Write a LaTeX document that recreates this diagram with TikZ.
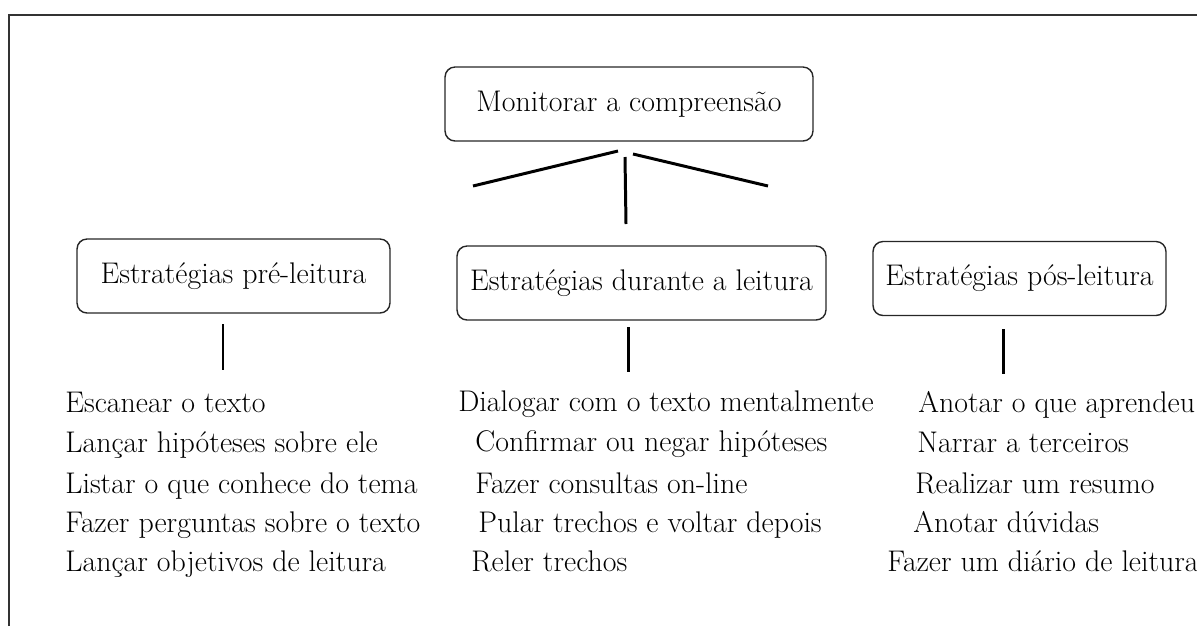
\documentclass[tikz,border=0pt]{standalone}
\usepackage{fontspec}
\usepackage{tikz}

\begin{document}
\begin{tikzpicture}[x=0.02cm, y=-0.02cm,
    box_node/.style={draw=black!85, line width=0.8pt, rounded corners=0.2cm, minimum height=1.48cm, inner sep=0pt, font=\fontsize{17}{20}\selectfont},
    item_node/.style={anchor=base west, inner sep=0pt, font=\fontsize{17}{20}\selectfont},
    link/.style={line width=1.7pt}]
    \useasboundingbox (0,0) rectangle (1197,626);
    \draw[black!80, line width=1.2pt] (9,626) -- (9,15) -- (1197,15);

    \node[box_node, minimum width=7.36cm] (monitor) at (629,104) {Monitorar a compreensão};
    \node[box_node, minimum width=6.26cm] (pre) at (233.5,276) {Estratégias pré-leitura};
    \node[box_node, minimum width=7.38cm] (durante) at (641.5,283) {Estratégias durante a leitura};
    \node[box_node, minimum width=5.86cm] (pos) at (1019.5,278.5) {Estratégias pós-leitura};

    \coordinate (fork_l) at (473,186);
    \coordinate (fork_lt) at (618,151);
    \coordinate (fork_mt) at (625,157);
    \coordinate (fork_m) at (626,224);
    \coordinate (fork_rt) at (633,154);
    \coordinate (fork_r) at (768,186);
    \draw[link] (fork_l) -- (fork_lt);
    \draw[link] (fork_mt) -- (fork_m);
    \draw[link] (fork_rt) -- (fork_r);

    \coordinate (pre_t) at (223,324);
    \coordinate (pre_b) at (223,370);
    \coordinate (durante_t) at (628,327);
    \coordinate (durante_b) at (628,372);
    \coordinate (pos_t) at (1003,329);
    \coordinate (pos_b) at (1003,374);
    \draw[link] (pre_t) -- (pre_b);
    \draw[link] (durante_t) -- (durante_b);
    \draw[link] (pos_t) -- (pos_b);

    \node[item_node] (pre1) at (65,412) {Escanear o texto};
    \node[item_node] (pre2) at (65,452) {Lançar hipóteses sobre ele};
    \node[item_node] (pre3) at (65,493) {Listar o que conhece do tema};
    \node[item_node] (pre4) at (65,532) {Fazer perguntas sobre o texto};
    \node[item_node] (pre5) at (65,571) {Lançar objetivos de leitura};

    \node[item_node] (durante1) at (458,411) {Dialogar com o texto mentalmente};
    \node[item_node] (durante2) at (475,451) {Confirmar ou negar hipóteses};
    \node[item_node] (durante3) at (475,493) {Fazer consultas on-line};
    \node[item_node] (durante4) at (478,532) {Pular trechos e voltar depois};
    \node[item_node] (durante5) at (471,571) {Reler trechos};

    \node[item_node] (pos1) at (918,412) {Anotar o que aprendeu};
    \node[item_node] (pos2) at (917,452) {Narrar a terceiros};
    \node[item_node] (pos3) at (915,493) {Realizar um resumo};
    \node[item_node] (pos4) at (913,532) {Anotar dúvidas};
    \node[item_node] (pos5) at (887,571) {Fazer um diário de leitura};
\end{tikzpicture}
\end{document}
